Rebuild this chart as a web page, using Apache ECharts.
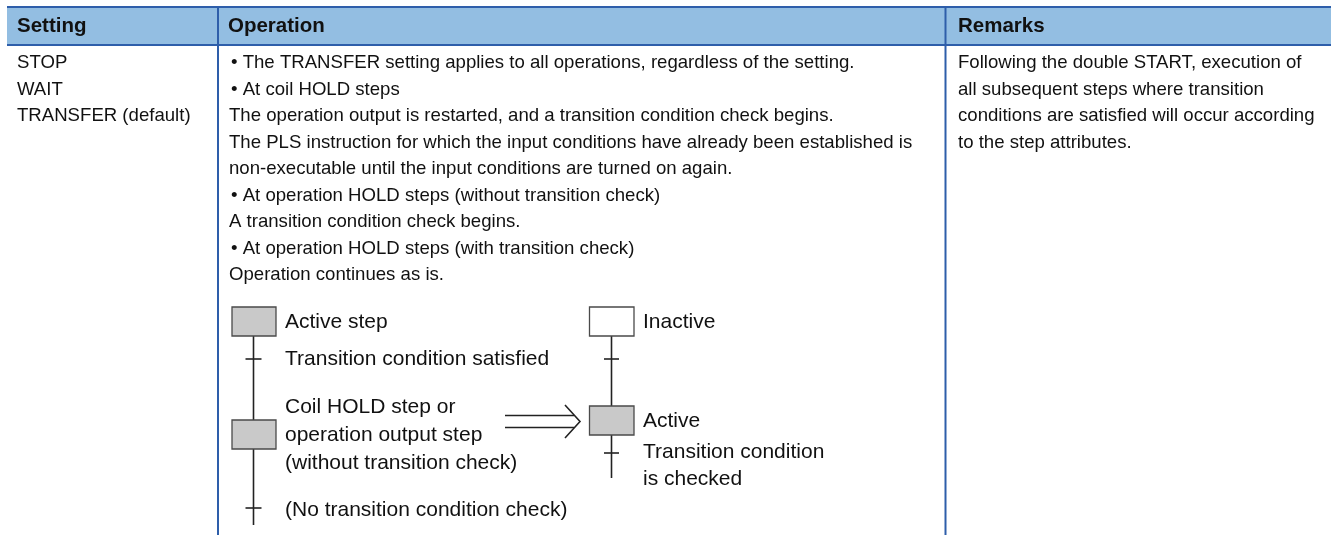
<!DOCTYPE html>
<html>
<head>
<meta charset="utf-8">
<script src="https://cdn.jsdelivr.net/npm/echarts@6/dist/echarts.min.js"></script>
<style>
html,body{margin:0;padding:0;background:#fff;}
#c{width:1331px;height:535px;}
</style>
</head>
<body>
<div id="c"></div>
<script>
// ---- content ----
const headers = ['Setting', 'Operation', 'Remarks'];
const settingLines = ['STOP', 'WAIT', 'TRANSFER (default)'];
const operationLines = [
  '\u2022 The TRANSFER setting applies to all operations, regardless of the setting.',
  '\u2022 At coil HOLD steps',
  'The operation output is restarted, and a transition condition check begins.',
  'The PLS instruction for which the input conditions have already been established is',
  'non-executable until the input conditions are turned on again.',
  '\u2022 At operation HOLD steps (without transition check)',
  'A transition condition check begins.',
  '\u2022 At operation HOLD steps (with transition check)',
  'Operation continues as is.'
];
const remarksLines = [
  'Following the double START, execution of',
  'all subsequent steps where transition',
  'conditions are satisfied will occur according',
  'to the step attributes.'
];
const leftDiagramLabels = ['Active step', 'Transition condition satisfied', 'Coil HOLD step or', 'operation output step', '(without transition check)', '(No transition condition check)'];
const rightDiagramLabels = ['Inactive', 'Active', 'Transition condition', 'is checked'];

// ---- layout ----
const FONT = '"Liberation Sans", Arial, Helvetica, sans-serif';
const BLUE = '#2E5EAA';
const HEAD_BG = '#93BEE2';
const colX = [17, 228, 958];
const divX = [218, 945.5];
const headTop = 7, headBot = 45;
const lineY0 = 63, pitch = 26.5;
const bodySize = 18.6, headSize = 20.5, diagSize = 21;
const INK = '#111';
const LINE = '#222';
const STEP_FILL = '#C9C9C9';
const STEP_STROKE = '#4a4a4a';

const g = [];
g.push({type: 'rect', shape: {x: 7, y: headTop, width: 1324, height: headBot - headTop}, style: {fill: HEAD_BG}, silent: true});
g.push({type: 'line', shape: {x1: 7, y1: headTop, x2: 1331, y2: headTop}, style: {stroke: BLUE, lineWidth: 2}});
g.push({type: 'line', shape: {x1: 7, y1: headBot, x2: 1331, y2: headBot}, style: {stroke: BLUE, lineWidth: 2}});
divX.forEach(x => g.push({type: 'line', shape: {x1: x, y1: headTop, x2: x, y2: 535}, style: {stroke: BLUE, lineWidth: 2}}));

function txt(t, x, y, size, weight) {
  g.push({type: 'text', style: {text: t, x: x, y: y, fill: INK, font: (weight || 'normal') + ' ' + size + 'px ' + FONT, verticalAlign: 'middle', align: 'left'}});
}
headers.forEach((h, i) => txt(h, colX[i], 26, headSize, 'bold'));
settingLines.forEach((t, i) => txt(t, colX[0], lineY0 + i * pitch, bodySize));
operationLines.forEach((t, i) => {
  const bullet = t.charAt(0) === '\u2022';
  txt(t, bullet ? 231 : 229, lineY0 + i * pitch, bodySize);
});
remarksLines.forEach((t, i) => txt(t, colX[2], lineY0 + i * pitch, bodySize));

// ---- SFC diagram ----
function vline(x, y1, y2) { g.push({type: 'line', shape: {x1: x, y1: y1, x2: x, y2: y2}, style: {stroke: LINE, lineWidth: 1.6}}); }
function hline(x1, x2, y) { g.push({type: 'line', shape: {x1: x1, y1: y, x2: x2, y2: y}, style: {stroke: LINE, lineWidth: 1.6}}); }
function step(x, y, w, h, fill) { g.push({type: 'rect', shape: {x: x, y: y, width: w, height: h}, style: {fill: fill, stroke: STEP_STROKE, lineWidth: 1.3}}); }

// left chain
const lx = 253.5;
vline(lx, 336, 420);
vline(lx, 449, 525);
step(232, 307, 44, 29, STEP_FILL);
step(232, 420, 44, 29, STEP_FILL);
hline(lx - 8, lx + 8, 359);
hline(lx - 8, lx + 8, 508);
const leftY = [322, 359, 407, 435, 463, 510];
leftDiagramLabels.forEach((t, i) => txt(t, 285, leftY[i], diagSize));

// right chain
const rx = 611.5;
vline(rx, 336, 406);
vline(rx, 435, 478);
step(589.5, 307, 44.5, 29, '#ffffff');
step(589.5, 406, 44.5, 29, STEP_FILL);
hline(rx - 7.5, rx + 7.5, 359);
hline(rx - 7.5, rx + 7.5, 453);
const rightY = [322, 421, 452, 479];
rightDiagramLabels.forEach((t, i) => txt(t, 643, rightY[i], diagSize));

// double arrow
hline(505, 574, 415.5);
hline(505, 574, 427.5);
g.push({type: 'polyline', shape: {points: [[565, 405], [580, 421.5], [565, 438]]}, style: {stroke: LINE, lineWidth: 1.6, fill: null}});

const chart = echarts.init(document.getElementById('c'), null, {renderer: 'canvas'});
chart.setOption({
  animation: false,
  backgroundColor: '#ffffff',
  graphic: {elements: g}
});
</script>
</body>
</html>
